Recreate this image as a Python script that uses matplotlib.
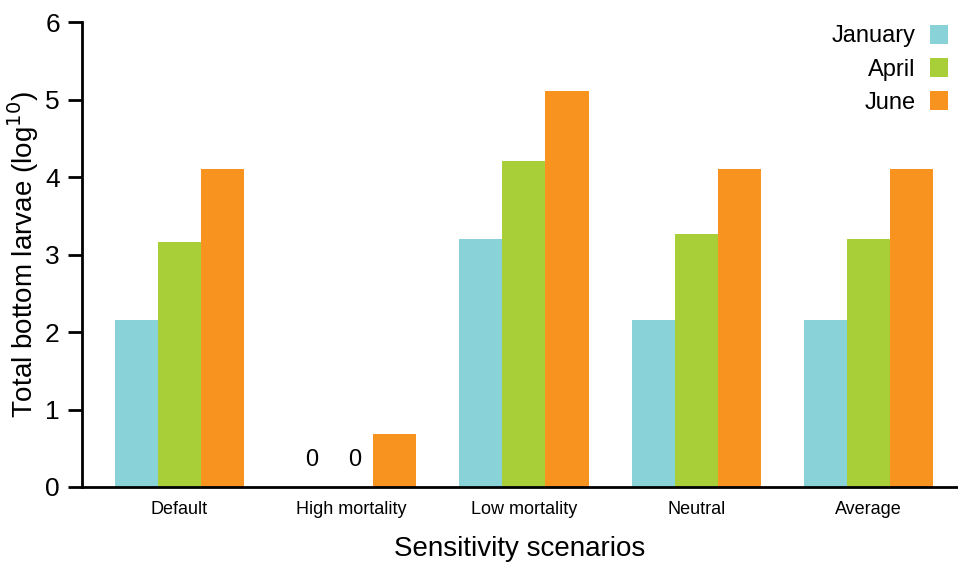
import matplotlib.pyplot as plt
import numpy as np

plt.rcParams['font.family'] = ['Liberation Sans', 'DejaVu Sans']

scenarios = ["Default", "High mortality", "Low mortality", "Neutral", "Average"]
months = ["January", "April", "June"]
january = [2.15, 0.0, 3.2, 2.15, 2.15]
april = [3.16, 0.0, 4.21, 3.27, 3.2]
june = [4.1, 0.68, 5.11, 4.1, 4.1]
colors = ["#89D2D8", "#A9CF38", "#F7931E"]

fig = plt.figure(figsize=(9.58, 5.66), dpi=100)
ax = fig.add_axes([0.0856, 0.1396, 0.9144, 0.8214])

x = np.arange(len(scenarios))
w = 0.25
for i, (vals, lab) in enumerate(zip([january, april, june], months)):
    ax.bar(x + (i - 1) * w, vals, w, color=colors[i], label=lab)

# zero labels for the missing bars
for i, vals in enumerate([january, april]):
    if vals[1] == 0:
        ax.text(x[1] + (i - 1) * w + 0.02, 0.35, "0", ha="center", va="center", fontsize=17)

ax.set_xlim(-0.566, 4.52)
ax.set_ylim(0, 6)
ax.set_yticks(range(7))
ax.set_xticks(x)
ax.set_xticklabels(scenarios, fontsize=13)
ax.tick_params(axis="x", length=0, pad=10)
ax.tick_params(axis="y", labelsize=19, length=10, width=2, pad=6)
for s in ["top", "right"]:
    ax.spines[s].set_visible(False)
ax.spines["left"].set_linewidth(2)
ax.spines["bottom"].set_linewidth(2)

ax.set_ylabel("Total bottom larvae (log$^{10}$)", fontsize=20, labelpad=3)
ax.set_xlabel("Sensitivity scenarios", fontsize=20, labelpad=13)

ax.legend(loc="upper right", bbox_to_anchor=(1.0126, 1.04), frameon=False, fontsize=17,
          markerfirst=False, handlelength=0.75, handleheight=0.85, handletextpad=0.6,
          labelspacing=0.45)

fig.savefig("out.png", dpi=100)
